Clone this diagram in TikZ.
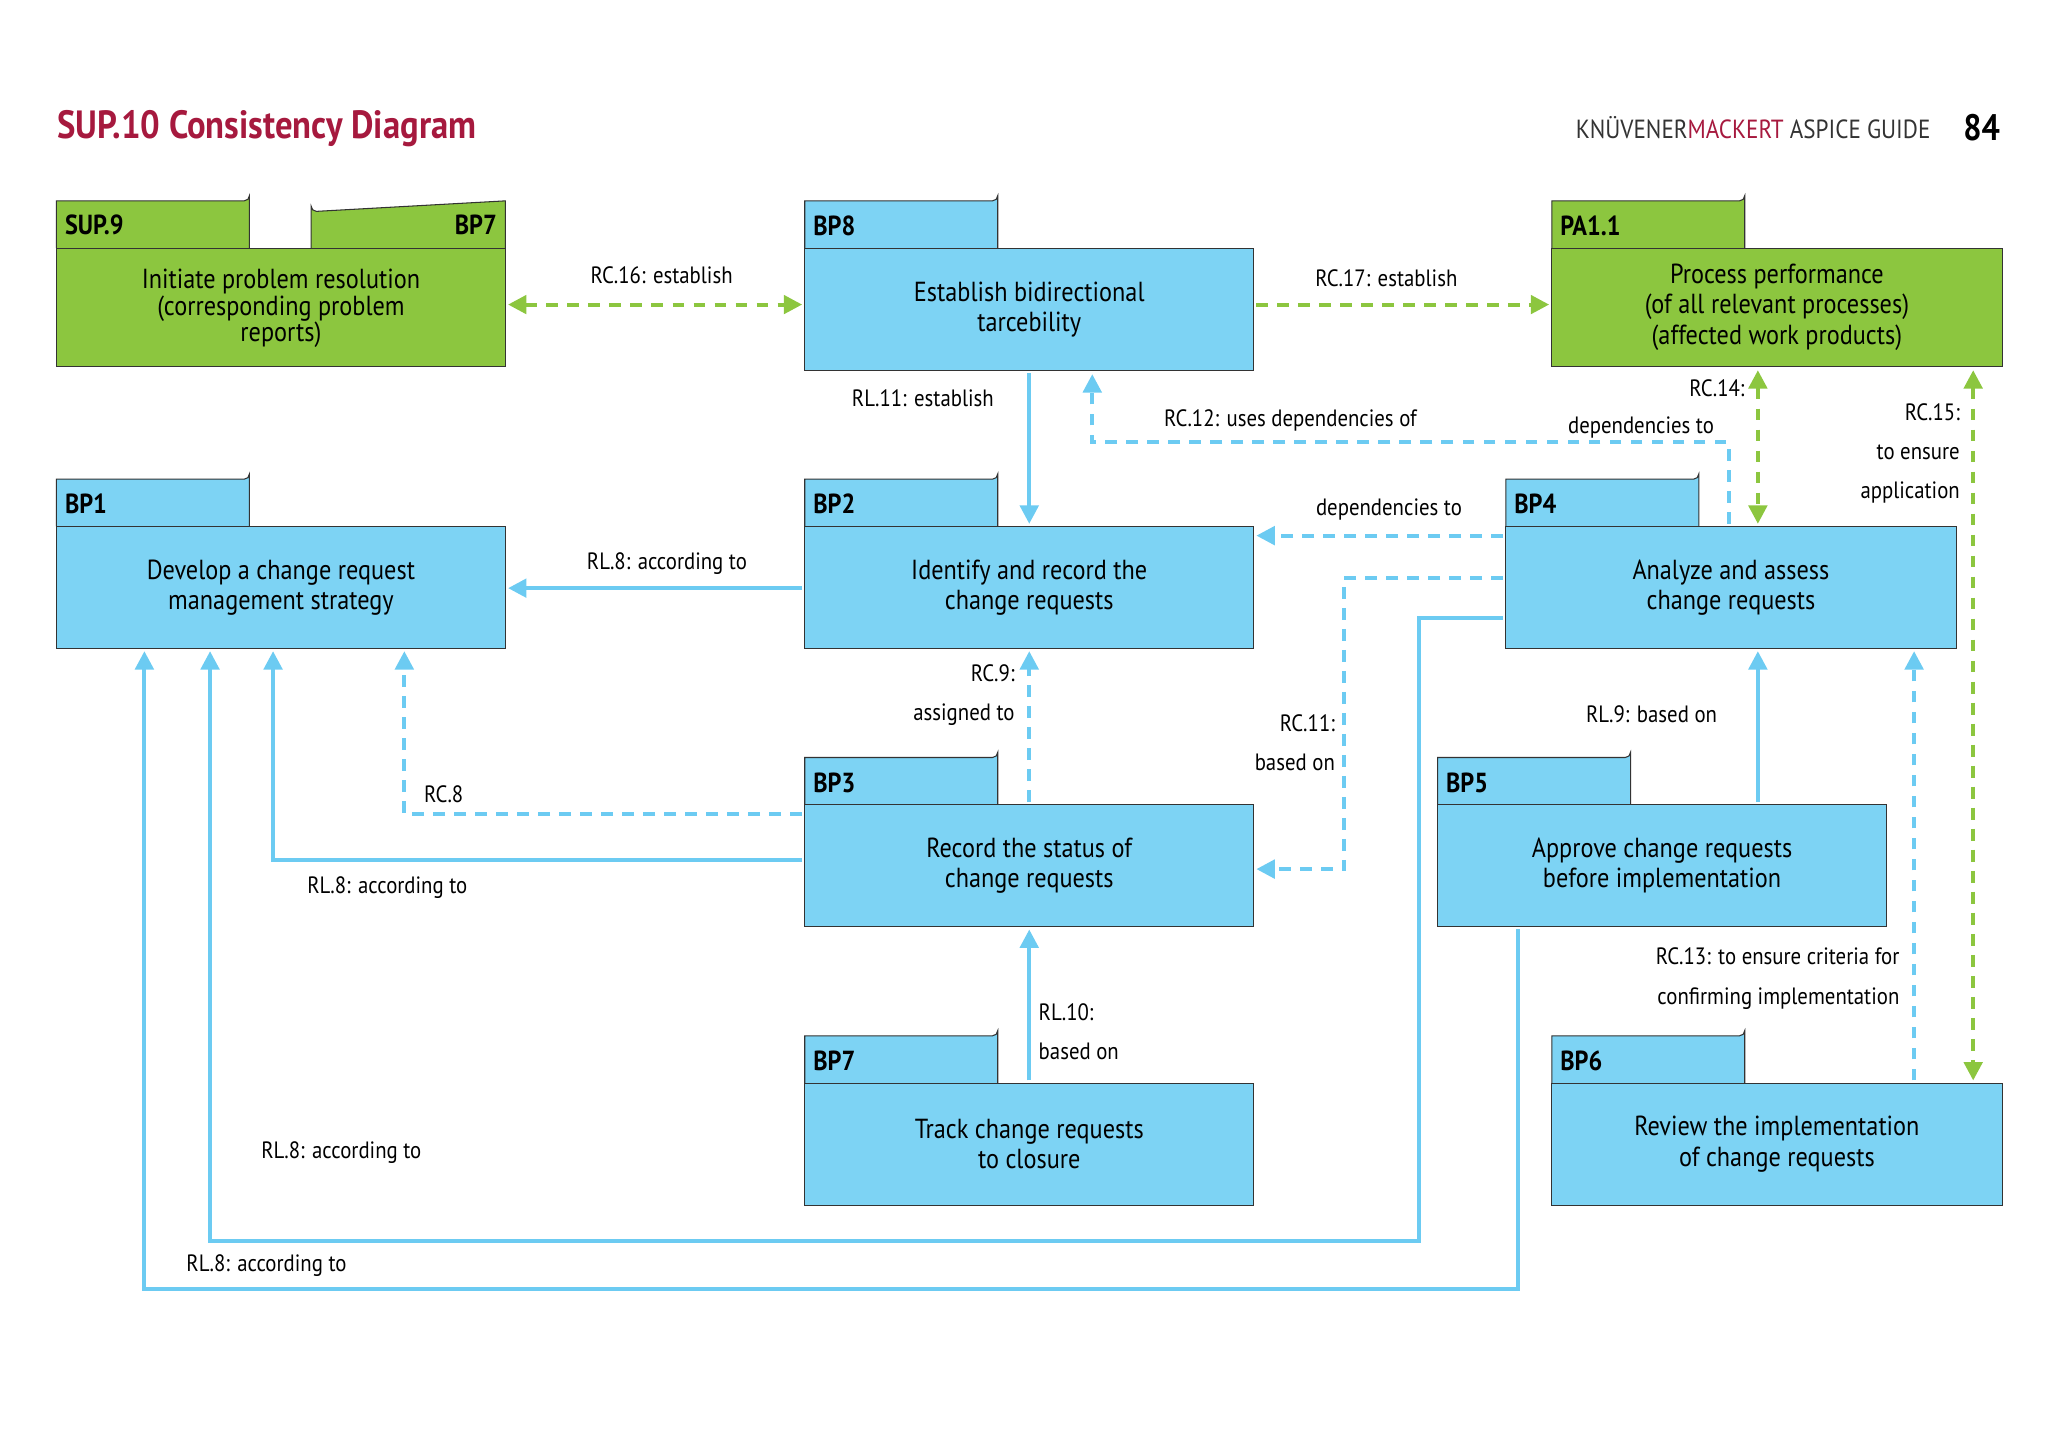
\documentclass[tikz,border=0pt]{standalone}
\usepackage{fontspec}
\setmainfont{PT Sans}[FakeStretch=0.88]
\usetikzlibrary{arrows.meta}
\definecolor{bx}{HTML}{7DD3F4}
\definecolor{ln}{HTML}{6CCBF2}
\definecolor{gr}{HTML}{8CC63F}
\definecolor{tt}{HTML}{A6193E}
\begin{document}
\begin{tikzpicture}[x=1pt,y=-1pt,
 box/.style={draw=black!80,line width=0.8pt},
 btxt/.style={font=\fontsize{21}{23}\selectfont,align=center},
 tab/.style={font=\fontsize{21}{23}\selectfont\bfseries},
 lbl/.style={font=\fontsize{18}{21}\selectfont,inner sep=1pt},
 sol/.style={ln,line width=3pt,-{Triangle[length=14pt,width=14pt]}},
 dsh/.style={ln,line width=3pt,dash pattern=on 9pt off 7pt,-{Triangle[length=14pt,width=14pt]}},
 gd/.style={gr,line width=3pt,dash pattern=on 9pt off 7pt,{Triangle[length=14pt,width=14pt]}-{Triangle[length=14pt,width=14pt]}},
 gs/.style={gr,line width=3pt,dash pattern=on 9pt off 7pt,-{Triangle[length=14pt,width=14pt]}}]
\useasboundingbox (0,0) rectangle (1560,1107);
% title
\node[anchor=west,font=\fontsize{30}{32}\selectfont\bfseries,text=tt] (title) at (40,98) {SUP.10 Consistency Diagram};
\node[anchor=east,font=\fontsize{20}{22}\selectfont,text=black!80] (guide) at (1474,97) {KNÜVENER\textcolor{tt}{MACKERT} ASPICE GUIDE};
\node[anchor=east,font=\fontsize{28}{30}\selectfont\bfseries] (page) at (1527,97) {84};
\newcommand{\pkg}[8]{%
 \fill[#2] (#3,#4-36) -- (#3+143,#4-36) arc[start angle=90,end angle=0,radius=4] -- (#3+147,#4) -- (#3,#4) -- cycle;
 \draw[box] (#3,#4) -- (#3,#4-36) -- (#3+143,#4-36) arc[start angle=90,end angle=0,radius=4] -- (#3+147,#4);
 \draw[box,fill=#2] (#3,#4) rectangle (#5,#6);
 \node[tab,anchor=west] (#1t) at (#3+3,#4-17) {#7};
 \node[btxt] (#1) at ({(#3+#5)/2},{(#4+#6)/2}) {#8};}
\fill[gr] (43,153) -- (186,153) arc[start angle=90,end angle=0,radius=4] -- (190,189) -- (43,189) -- cycle;
\draw[box] (43,189) -- (43,153) -- (186,153) arc[start angle=90,end angle=0,radius=4] -- (190,189);
\fill[gr] (237,189) -- (237,157) arc[start angle=180,end angle=90,radius=4] -- (385,153) -- (385,189) -- cycle;
\draw[box] (237,189) -- (237,157) arc[start angle=180,end angle=90,radius=4] -- (385,153) -- (385,189);
\draw[box,fill=gr] (43,189) rectangle (385,279);
\node[tab,anchor=west] (sup9t) at (46,171) {SUP.9};
\node[tab,anchor=east] (sup9b) at (382,171) {BP7};
\node[btxt,font=\fontsize{21}{20}\selectfont] (sup9) at (214,235) {Initiate problem resolution\\(corresponding problem\\reports)};
\pkg{bp8}{bx}{613}{189}{955}{282}{BP8}{Establish bidirectional\\tarcebility}
\pkg{pa}{gr}{1182}{189}{1525}{279}{PA1.1}{\fontsize{21}{20}\selectfont Process performance\\(of all relevant processes)\\(affected work products)}
\pkg{bp1}{bx}{43}{401}{385}{494}{BP1}{Develop a change request\\management strategy}
\pkg{bp2}{bx}{613}{401}{955}{494}{BP2}{Identify and record the\\change requests}
\pkg{bp4}{bx}{1147}{401}{1490}{494}{BP4}{Analyze and assess\\change requests}
\pkg{bp3}{bx}{613}{613}{955}{706}{BP3}{Record the status of\\change requests}
\pkg{bp5}{bx}{1095}{613}{1437}{706}{BP5}{Approve change requests\\before implementation}
\pkg{bp7}{bx}{613}{825}{955}{918}{BP7}{Track change requests\\to closure}
\pkg{bp6}{bx}{1182}{825}{1525}{918}{BP6}{Review the implementation\\of change requests}
\coordinate (a1) at (387,232); \coordinate (a2) at (611,232);
\coordinate (b1) at (957,232); \coordinate (b2) at (1180,232);
\coordinate (c1) at (784,284); \coordinate (c2) at (784,399);
\coordinate (d1) at (1317,399); \coordinate (d2) at (1317,337); \coordinate (d3) at (832,337); \coordinate (d4) at (832,285);
\coordinate (e1) at (1339,282); \coordinate (e2) at (1339,399);
\coordinate (f1) at (1503,282); \coordinate (f2) at (1503,823);
\coordinate (g1) at (1145,408); \coordinate (g2) at (957,408);
\coordinate (h1) at (1145,440); \coordinate (h2) at (1024,440); \coordinate (h3) at (1024,662); \coordinate (h4) at (957,662);
\coordinate (i1) at (611,448); \coordinate (i2) at (387,448);
\coordinate (j1) at (784,611); \coordinate (j2) at (784,496);
\coordinate (k1) at (611,620); \coordinate (k2) at (308,620); \coordinate (k3) at (308,496);
\coordinate (l1) at (611,655); \coordinate (l2) at (208,655); \coordinate (l3) at (208,496);
\coordinate (m1) at (784,823); \coordinate (m2) at (784,708);
\coordinate (n1) at (1145,471); \coordinate (n2) at (1081,471); \coordinate (n3) at (1081,945); \coordinate (n4) at (160,945); \coordinate (n5) at (160,496);
\coordinate (o1) at (1156,708); \coordinate (o2) at (1156,982); \coordinate (o3) at (110,982); \coordinate (o4) at (110,496);
\coordinate (p1) at (1339,611); \coordinate (p2) at (1339,496);
\coordinate (q1) at (1458,823); \coordinate (q2) at (1458,496);
\draw[gd] (a1) -- (a2);
\draw[gs] (b1) -- (b2);
\draw[sol] (c1) -- (c2);
\draw[dsh] (d1) -- (d2) -- (d3) -- (d4);
\draw[gd] (e1) -- (e2);
\draw[gd] (f1) -- (f2);
\draw[dsh] (g1) -- (g2);
\draw[dsh] (h1) -- (h2) -- (h3) -- (h4);
\draw[sol] (i1) -- (i2);
\draw[dsh] (j1) -- (j2);
\draw[dsh] (k1) -- (k2) -- (k3);
\draw[sol] (l1) -- (l2) -- (l3);
\draw[sol] (m1) -- (m2);
\draw[sol] (n1) -- (n2) -- (n3) -- (n4) -- (n5);
\draw[sol] (o1) -- (o2) -- (o3) -- (o4);
\draw[sol] (p1) -- (p2);
\draw[dsh] (q1) -- (q2);
\node[lbl] (l16) at (504,210) {RC.16: establish};
\node[lbl] (l17) at (1056,212) {RC.17: establish};
\node[lbl] (l11) at (703,303) {RL.11: establish};
\node[lbl] (l12) at (983,320) {RC.12: uses dependencies of};
\node[lbl,anchor=east] (l14a) at (1330,296) {RC.14:};
\node[lbl] (l14b) at (1250,326) {dependencies to};
\node[lbl,anchor=north east,align=right,font=\fontsize{18}{30}\selectfont] (l15) at (1494,306) {RC.15:\\to ensure\\application};
\node[lbl] (ldep) at (1058,388) {dependencies to};
\node[lbl,anchor=north east,align=right,font=\fontsize{18}{30}\selectfont] (lrc11) at (1018,543) {RC.11:\\based on};
\node[lbl] (lr8a) at (508,429) {RL.8: according to};
\node[lbl,anchor=north east,align=right,font=\fontsize{18}{30}\selectfont] (lrc9) at (774,505) {RC.9:\\assigned to};
\node[lbl] (lrc8) at (338,605) {RC.8};
\node[lbl] (lr8b) at (295,676) {RL.8: according to};
\node[lbl,anchor=north west,align=left,font=\fontsize{18}{30}\selectfont] (lr10) at (790,763) {RL.10:\\based on};
\node[lbl] (lr8c) at (260,878) {RL.8: according to};
\node[lbl] (lr8d) at (203,964) {RL.8: according to};
\node[lbl] (lr9) at (1258,544) {RL.9: based on};
\node[lbl,anchor=north east,align=right,font=\fontsize{18}{30}\selectfont] (lrc13) at (1448,721) {RC.13: to ensure criteria for\\confirming implementation};
\end{tikzpicture}
\end{document}
